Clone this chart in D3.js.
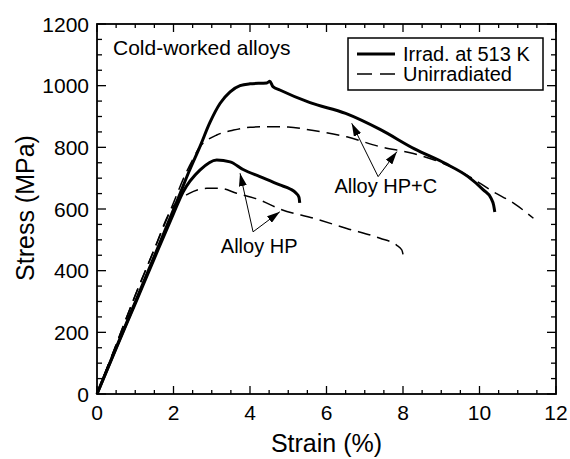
<!DOCTYPE html>
<html>
<head>
<meta charset="utf-8">
<script src="https://cdn.jsdelivr.net/npm/d3@7"></script>
<style>
  body { margin: 0; background: #fff; }
  svg { font-family: "Liberation Sans", Arial, sans-serif; }
</style>
</head>
<body>
<div id="chart"></div>
<script>
// strain (%) and stress (MPa)
var hpcIrrStrain = [0, 0.5, 1, 1.5, 2, 2.1, 2.4, 2.7, 2.95, 3.22, 3.48, 3.74, 4.0, 4.44, 4.52, 4.6, 4.78, 5.57, 6.5, 7.4, 8.3, 9.1, 9.7, 10.1, 10.3, 10.37, 10.4];
var hpcIrrStress = [0, 150, 298, 447, 598, 628, 720, 805, 880, 943, 980, 1000, 1006, 1009, 1014, 997, 986, 945, 910, 858, 795, 748, 705, 662, 635, 612, 590];

var hpcUnStrain = [0, 0.5, 1, 1.5, 2, 2.3, 2.5, 2.69, 2.9, 3.13, 3.57, 4.0, 4.44, 5.0, 5.57, 6.53, 7.4, 8.27, 9.14, 9.67, 10.36, 10.89, 11.41];
var hpcUnStress = [0, 160, 320, 470, 620, 710, 760, 802, 825, 840, 856, 865, 867, 866, 856, 834, 802, 780, 743, 710, 656, 619, 570];

var hpIrrStrain = [0, 0.5, 1, 1.5, 2, 2.25, 2.69, 3.13, 3.48, 3.82, 4.26, 4.78, 5.05, 5.2, 5.28, 5.3];
var hpIrrStress = [0, 148, 293, 440, 585, 655, 726, 759, 753, 728, 705, 678, 665, 652, 638, 620];

var hpUnStrain = [0, 0.5, 1, 1.5, 1.9, 2.1, 2.4, 2.87, 3.22, 3.65, 4.26, 4.78, 5.66, 6.53, 7.4, 7.83, 7.97, 8.03];
var hpUnStress = [0, 160, 320, 470, 590, 625, 650, 667, 667, 651, 629, 600, 570, 537, 505, 483, 467, 430];

var xTicks = [0, 2, 4, 6, 8, 10, 12];
var yTicks = [0, 200, 400, 600, 800, 1000, 1200];

// annotation arrows: label anchor, arrow start and arrow tips (data coords)
var annotations = [
  { label: "Alloy HP", text: [4.24, 458], from: [4.08, 526], tips: [[3.74, 716], [4.78, 591]] },
  { label: "Alloy HP+C", text: [7.55, 651], from: [7.35, 705], tips: [[6.66, 878], [7.84, 786]] }
];

var width = 570, height = 459,
    x = d3.scaleLinear().domain([0, 12]).range([97, 556]),
    y = d3.scaleLinear().domain([0, 1200]).range([394, 24]);

var svg = d3.select("#chart").append("svg")
  .attr("width", width).attr("height", height);

svg.append("defs").append("marker")
  .attr("id", "head")
  .attr("viewBox", "0 0 13 8")
  .attr("refX", 13).attr("refY", 4)
  .attr("markerWidth", 13).attr("markerHeight", 8)
  .attr("markerUnits", "userSpaceOnUse")
  .attr("orient", "auto")
  .append("path").attr("d", "M0,0L13,4L0,8Z").attr("fill", "#000");

// axes with inward ticks on all four sides
function drawAxes() {
  var minorX = d3.range(0, 12.01, 0.5), minorY = d3.range(0, 1201, 50);
  var g = svg.append("g").attr("stroke", "#000").attr("stroke-width", 1.3);

  g.selectAll(".bx").data(minorX).enter().append("line")
    .attr("x1", d => x(d)).attr("x2", d => x(d))
    .attr("y1", y(0)).attr("y2", d => y(0) - (d % 2 === 0 ? 8 : 4));
  g.selectAll(".tx").data(minorX).enter().append("line")
    .attr("x1", d => x(d)).attr("x2", d => x(d))
    .attr("y1", y(1200)).attr("y2", d => y(1200) + (d % 2 === 0 ? 8 : 4));
  g.selectAll(".ly").data(minorY).enter().append("line")
    .attr("y1", d => y(d)).attr("y2", d => y(d))
    .attr("x1", x(0)).attr("x2", d => x(0) + (d % 200 === 0 ? 9 : 5));
  g.selectAll(".ry").data(minorY).enter().append("line")
    .attr("y1", d => y(d)).attr("y2", d => y(d))
    .attr("x1", x(12)).attr("x2", d => x(12) - (d % 200 === 0 ? 9 : 5));

  svg.append("rect")
    .attr("x", x(0)).attr("y", y(1200))
    .attr("width", x(12) - x(0)).attr("height", y(0) - y(1200))
    .attr("fill", "none").attr("stroke", "#000").attr("stroke-width", 1.8);

  svg.append("g").attr("font-size", 21).attr("text-anchor", "middle")
    .selectAll("text").data(xTicks).enter().append("text")
    .attr("x", d => x(d)).attr("y", 420).text(d => d);

  svg.append("g").attr("font-size", 21).attr("text-anchor", "end")
    .selectAll("text").data(yTicks).enter().append("text")
    .attr("x", 89).attr("y", d => y(d) + 7.5).text(d => d);

  svg.append("text").attr("x", x(6)).attr("y", 452)
    .attr("text-anchor", "middle").attr("font-size", 25).text("Strain (%)");
  svg.append("text").attr("transform", "translate(34," + 208 + ") rotate(-90)")
    .attr("text-anchor", "middle").attr("font-size", 25).text("Stress (MPa)");
}

function drawCurve(xs, ys, dashed) {
  var pts = xs.map((d, i) => [d, ys[i]]);
  var line = d3.line()
    .x(d => x(d[0])).y(d => y(d[1]))
    .curve(d3.curveMonotoneX);
  svg.append("path").datum(pts)
    .attr("d", line)
    .attr("fill", "none")
    .attr("stroke", "#000")
    .attr("stroke-width", dashed ? 1.5 : 3)
    .attr("stroke-linejoin", "round")
    .attr("stroke-dasharray", dashed ? "13,7" : null);
}

function drawAnnotations() {
  var g = svg.append("g");
  annotations.forEach(a => {
    a.tips.forEach(t => {
      g.append("line")
        .attr("x1", x(a.from[0])).attr("y1", y(a.from[1]))
        .attr("x2", x(t[0])).attr("y2", y(t[1]))
        .attr("stroke", "#000").attr("stroke-width", 1)
        .attr("marker-end", "url(#head)");
    });
    g.append("text")
      .attr("x", x(a.text[0])).attr("y", y(a.text[1]))
      .attr("text-anchor", "middle").attr("font-size", 20)
      .text(a.label);
  });
}

function drawLegend() {
  var g = svg.append("g");
  g.append("rect").attr("x", 348).attr("y", 38).attr("width", 195).attr("height", 52)
    .attr("fill", "#fff").attr("stroke", "#000").attr("stroke-width", 1.5);
  g.append("line").attr("x1", 357).attr("x2", 395).attr("y1", 54).attr("y2", 54)
    .attr("stroke", "#000").attr("stroke-width", 3);
  g.append("line").attr("x1", 357).attr("x2", 395).attr("y1", 74).attr("y2", 74)
    .attr("stroke", "#000").attr("stroke-width", 1.5).attr("stroke-dasharray", "15,8");
  g.append("text").attr("x", 403).attr("y", 61).attr("font-size", 20).text("Irrad. at 513 K");
  g.append("text").attr("x", 403).attr("y", 81).attr("font-size", 20).text("Unirradiated");
  svg.append("text").attr("x", 113).attr("y", 55).attr("font-size", 21).text("Cold-worked alloys");
}

drawAxes();
drawCurve(hpcUnStrain, hpcUnStress, true);
drawCurve(hpUnStrain, hpUnStress, true);
drawCurve(hpcIrrStrain, hpcIrrStress, false);
drawCurve(hpIrrStrain, hpIrrStress, false);
drawAnnotations();
drawLegend();
</script>
</body>
</html>
